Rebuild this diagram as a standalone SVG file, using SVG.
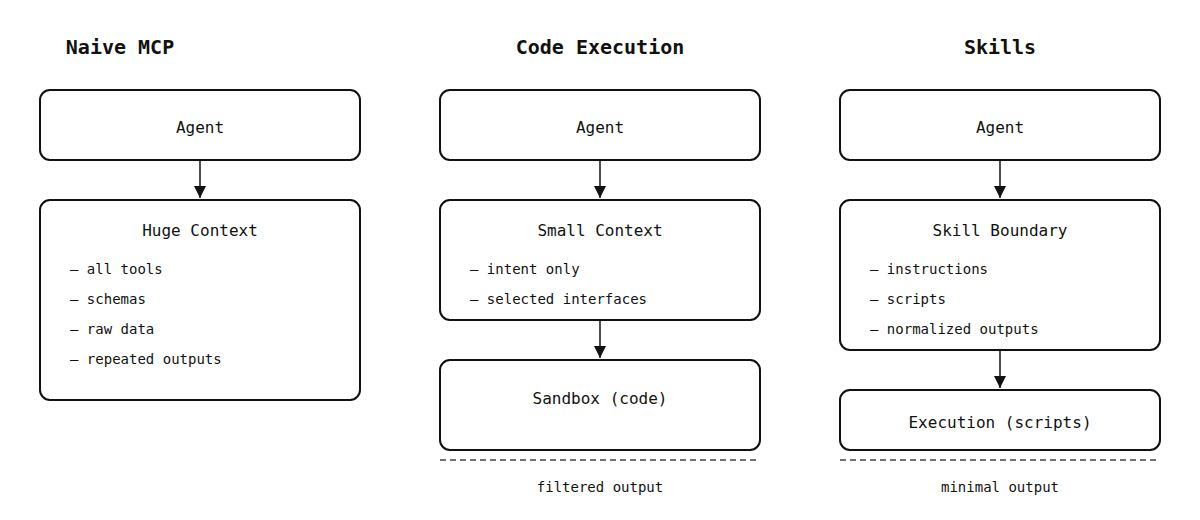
<svg xmlns="http://www.w3.org/2000/svg" width="1200" height="520" viewBox="0 0 1200 520">
<style>
text{font-family:"DejaVu Sans Mono","Liberation Mono",monospace;fill:#111}
.title{font-size:20px;font-weight:bold;text-anchor:middle}
.lbl{font-size:16px;text-anchor:middle}
.item{font-size:14px}
.note{font-size:14px;text-anchor:middle}
.box{fill:#fff;stroke:#111;stroke-width:2}
.edge{stroke:#222;stroke-width:1.6;fill:none}
.dash{stroke:#444;stroke-width:1.6;stroke-dasharray:6 4}
</style>
<defs>
<marker id="ah" viewBox="0 0 10 10" refX="10" refY="5" markerWidth="12" markerHeight="12" markerUnits="userSpaceOnUse" orient="auto">
<path d="M0,0 L10,5 L0,10 z" fill="#111"/>
</marker>
</defs>
<rect width="1200" height="520" fill="#fff"/>
<text class="title" x="120" y="54">Naive MCP</text>
<text class="title" x="600" y="54">Code Execution</text>
<text class="title" x="1000" y="54">Skills</text>

<g id="connectors">
<line class="edge" x1="200" y1="160" x2="200" y2="198" marker-end="url(#ah)"/>
<line class="edge" x1="600" y1="160" x2="600" y2="198" marker-end="url(#ah)"/>
<line class="edge" x1="600" y1="320" x2="600" y2="358" marker-end="url(#ah)"/>
<line class="edge" x1="1000" y1="160" x2="1000" y2="198" marker-end="url(#ah)"/>
<line class="edge" x1="1000" y1="350" x2="1000" y2="388" marker-end="url(#ah)"/>
</g>

<g id="agent1"><rect class="box" x="40" y="90" width="320" height="70" rx="10"/><text class="lbl" x="200" y="133">Agent</text></g>
<g id="huge"><rect class="box" x="40" y="200" width="320" height="200" rx="10"/><text class="lbl" x="200" y="236">Huge Context</text>
<text class="item" x="70" y="274">– all tools</text>
<text class="item" x="70" y="304">– schemas</text>
<text class="item" x="70" y="334">– raw data</text>
<text class="item" x="70" y="364">– repeated outputs</text></g>

<g id="agent2"><rect class="box" x="440" y="90" width="320" height="70" rx="10"/><text class="lbl" x="600" y="133">Agent</text></g>
<g id="small"><rect class="box" x="440" y="200" width="320" height="120" rx="10"/><text class="lbl" x="600" y="236">Small Context</text>
<text class="item" x="470" y="274">– intent only</text>
<text class="item" x="470" y="304">– selected interfaces</text></g>
<g id="sandbox"><rect class="box" x="440" y="360" width="320" height="90" rx="10"/><text class="lbl" x="600" y="404">Sandbox (code)</text></g>
<g id="filtered"><line class="dash" x1="440" y1="460" x2="760" y2="460"/><text class="note" x="600" y="492">filtered output</text></g>

<g id="agent3"><rect class="box" x="840" y="90" width="320" height="70" rx="10"/><text class="lbl" x="1000" y="133">Agent</text></g>
<g id="skill"><rect class="box" x="840" y="200" width="320" height="150" rx="10"/><text class="lbl" x="1000" y="236">Skill Boundary</text>
<text class="item" x="870" y="274">– instructions</text>
<text class="item" x="870" y="304">– scripts</text>
<text class="item" x="870" y="334">– normalized outputs</text></g>
<g id="exec"><rect class="box" x="840" y="390" width="320" height="60" rx="10"/><text class="lbl" x="1000" y="428">Execution (scripts)</text></g>
<g id="minimal"><line class="dash" x1="840" y1="460" x2="1160" y2="460"/><text class="note" x="1000" y="492">minimal output</text></g>
</svg>
